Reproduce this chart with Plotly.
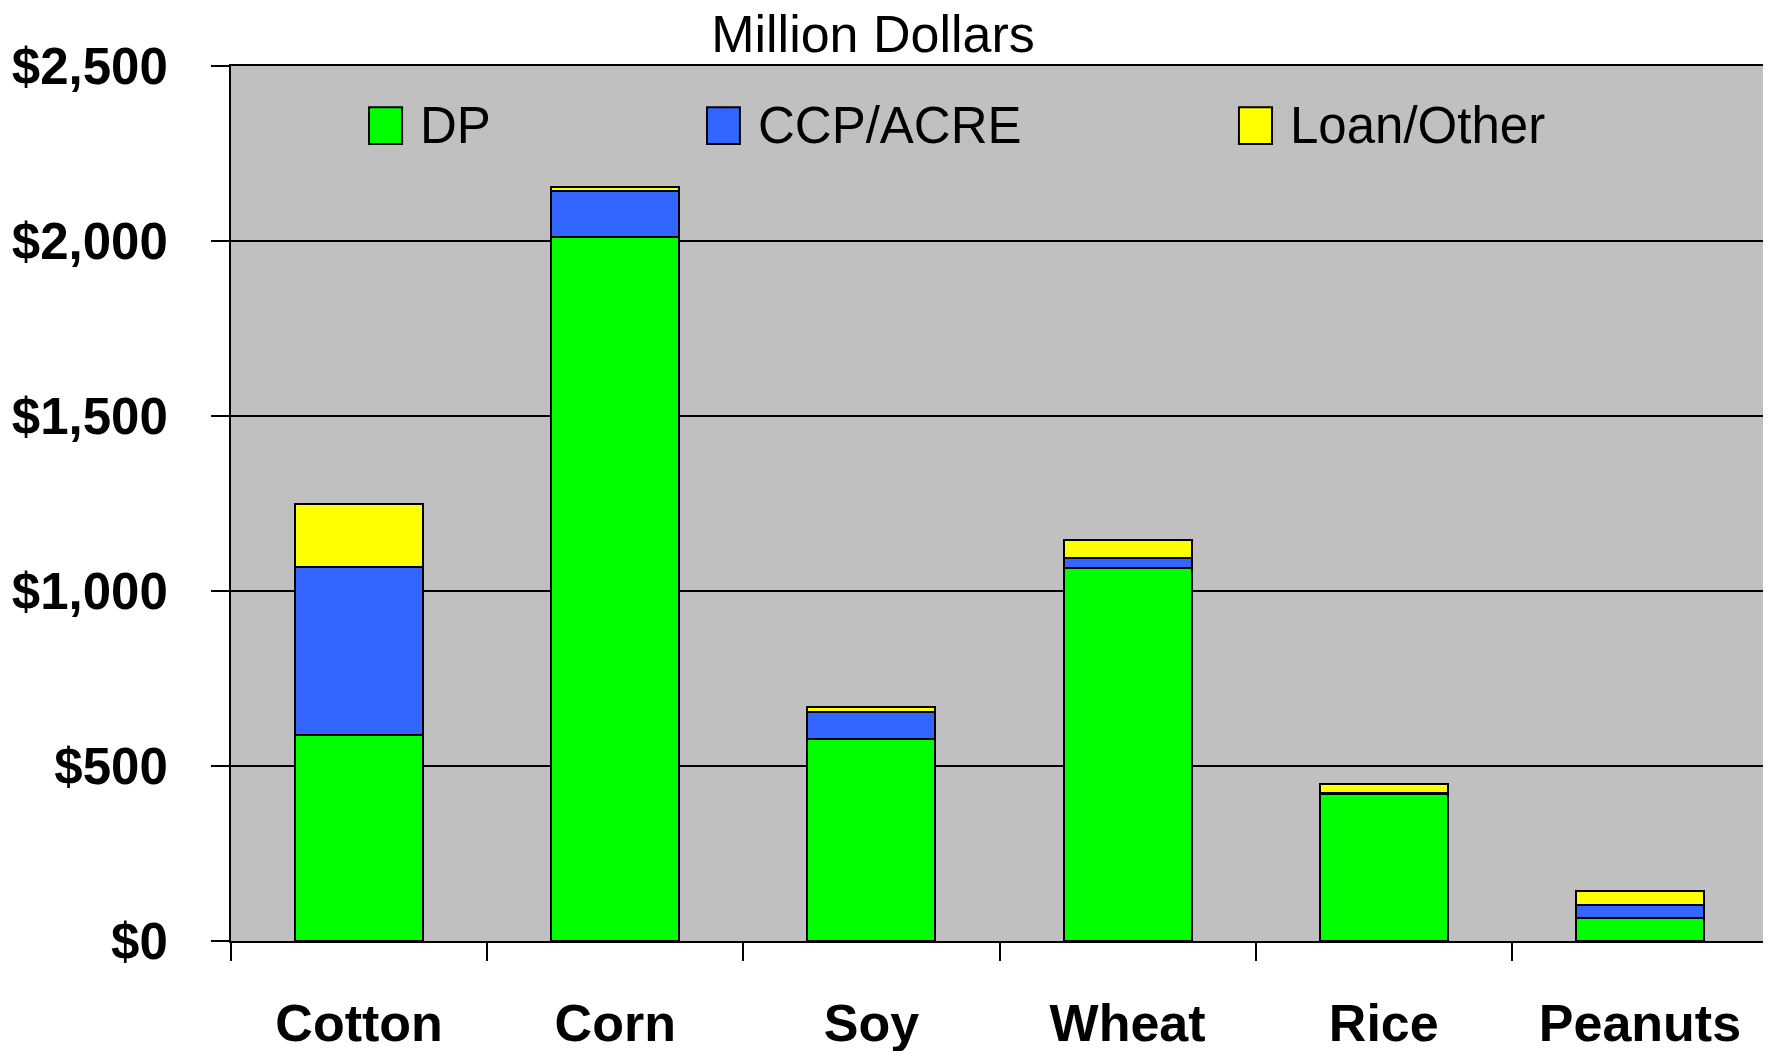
import plotly.graph_objects as go

categories = ["Cotton", "Corn", "Soy", "Wheat", "Rice", "Peanuts"]
dp = [590, 2012, 576, 1065, 419, 67]
ccp_acre = [478, 131, 79, 30, 5, 36]
loan_other = [180, 12, 14, 51, 24, 40]
series_names = ["DP", "CCP/ACRE", "Loan/Other"]
series_colors = ["#00FF00", "#3366FF", "#FFFF00"]
y_ticks = [0, 500, 1000, 1500, 2000, 2500]
title_text = "Million Dollars"

FONT = "Liberation Sans, Arial, sans-serif"
W, H = 1763, 1043

fig = go.Figure()
for name, vals, col in zip(series_names, [dp, ccp_acre, loan_other], series_colors):
    fig.add_trace(go.Bar(
        x=categories, y=vals, name=name,
        marker=dict(color=col, line=dict(color="black", width=2)),
        showlegend=False,
    ))

# manual legend (large squares like the reference)
leg_sq = [(0.0898, 0.1113), (0.3097, 0.3311), (0.6558, 0.6773)]
leg_tx = [0.1217, 0.3416, 0.6877]
for (x0, x1), tx, name, col in zip(leg_sq, leg_tx, series_names, series_colors):
    fig.add_shape(type="rect", xref="paper", yref="paper", x0=x0, x1=x1,
                  y0=0.911, y1=0.953, fillcolor=col,
                  line=dict(color="black", width=2))
    fig.add_annotation(xref="paper", yref="paper", x=tx, y=0.932,
                       xanchor="left", yanchor="middle", showarrow=False,
                       text=name, font=dict(family=FONT, size=51, color="black"))

fig.update_layout(
    width=W, height=H,
    barmode="stack", bargap=0.5,
    plot_bgcolor="#C0C0C0", paper_bgcolor="white",
    margin=dict(l=223, r=3, t=58, b=110, autoexpand=False),
    title=dict(text=title_text, x=865 / W, xref="container", xanchor="center",
               y=1 - 26 / H, yref="container", yanchor="middle",
               automargin=False,
               font=dict(family=FONT, size=52, color="black")),
    font=dict(family=FONT, color="black"),
)
fig.update_xaxes(
    type="category", tickson="boundaries", ticks="outside", ticklen=18,
    tickwidth=2, tickcolor="black", showline=True, linecolor="black",
    linewidth=2, mirror=True, showgrid=False, automargin=False,
    tickfont=dict(family=FONT, size=52, color="black", weight="bold"),
    ticklabelstandoff=36,
)
fig.update_yaxes(
    range=[0, 2500], tickvals=y_ticks,
    ticktext=["$" + format(v, ",") for v in y_ticks],
    ticks="outside", ticklen=18, tickwidth=2, tickcolor="black",
    showline=True, linecolor="black", linewidth=2, mirror=True,
    showgrid=True, gridcolor="black", gridwidth=1.5, zeroline=False,
    automargin=False,
    tickfont=dict(family=FONT, size=51, color="black", weight="bold"),
    ticklabelstandoff=33,
)

fig.write_html("out.html")
